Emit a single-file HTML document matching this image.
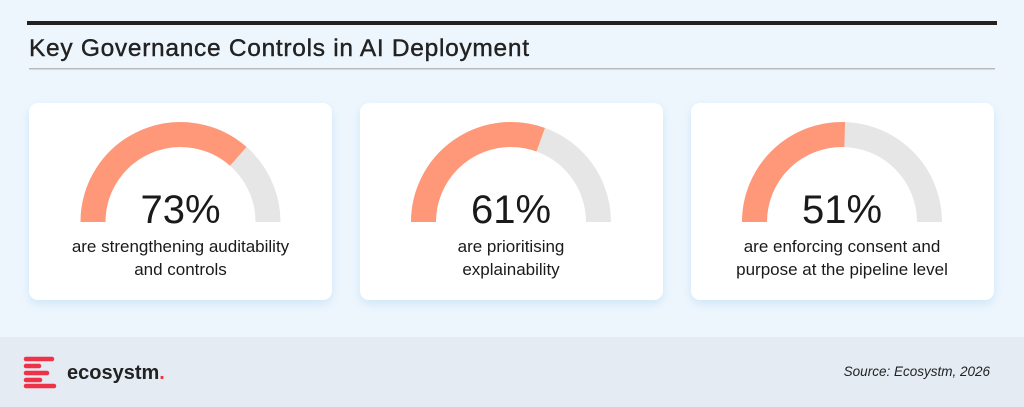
<!DOCTYPE html>
<html><head><meta charset="utf-8"><style>
html,body{margin:0;padding:0;width:1024px;height:407px;overflow:hidden;background:#eef6fd}
svg{display:block}
text{font-family:"Liberation Sans",sans-serif}
</style></head><body>
<svg width="1024" height="407" viewBox="0 0 1024 407">
<defs><filter id="sh" x="-10%" y="-10%" width="120%" height="130%"><feDropShadow dx="0" dy="4" stdDeviation="5" flood-color="#b8dcf5" flood-opacity="0.6"/></filter></defs>
<rect width="1024" height="407" fill="#eef6fd"/>
<rect x="27" y="21" width="970" height="4" fill="#222"/>
<text x="29" y="56" font-size="24.5" fill="#222" stroke="#222" stroke-width="0.4" textLength="500" lengthAdjust="spacing">Key Governance Controls in AI Deployment</text>
<rect x="29" y="68" width="966" height="1.5" fill="#bbb"/>

<g filter="url(#sh)">
<rect x="29" y="103" width="303" height="197" rx="9" fill="#fff"/>
<rect x="360" y="103" width="303" height="197" rx="9" fill="#fff"/>
<rect x="691" y="103" width="303" height="197" rx="9" fill="#fff"/>
</g>

<g fill="none" stroke-width="25">
<path d="M93 222 A87.5 87.5 0 0 1 268 222" stroke="#e6e6e6"/>
<path d="M93 222 A87.5 87.5 0 0 1 238.3 156.4" stroke="#ff9878"/>
<path d="M423.5 222 A87.5 87.5 0 0 1 598.5 222" stroke="#e6e6e6"/>
<path d="M423.5 222 A87.5 87.5 0 0 1 540.7 139.7" stroke="#ff9878"/>
<path d="M754.5 222 A87.5 87.5 0 0 1 929.5 222" stroke="#e6e6e6"/>
<path d="M754.5 222 A87.5 87.5 0 0 1 844.7 134.5" stroke="#ff9878"/>
</g>

<g text-anchor="middle" fill="#1a1a1a">
<text x="180.5" y="223" font-size="40">73%</text>
<text x="180.5" y="252" font-size="17">are strengthening auditability</text>
<text x="180.5" y="275" font-size="17">and controls</text>
<text x="511" y="223" font-size="40">61%</text>
<text x="511" y="252" font-size="17">are prioritising</text>
<text x="511" y="275" font-size="17">explainability</text>
<text x="842" y="223" font-size="40">51%</text>
<text x="842" y="252" font-size="17">are enforcing consent and</text>
<text x="842" y="275" font-size="17">purpose at the pipeline level</text>
</g>

<rect x="0" y="337" width="1024" height="70" fill="#e4ebf3"/>
<g stroke="#ef3346" stroke-width="4.5" stroke-linecap="round">
<line x1="26" y1="359" x2="52" y2="359"/>
<line x1="26" y1="366" x2="39" y2="366"/>
<line x1="26" y1="373" x2="47" y2="373"/>
<line x1="26" y1="380" x2="40" y2="380"/>
<line x1="26" y1="386" x2="54" y2="386"/>
</g>
<text x="67" y="379" font-size="20" font-weight="bold" fill="#222">ecosystm<tspan fill="#ef3346">.</tspan></text>
<text x="990" y="376" font-size="13.5" font-style="italic" fill="#222" text-anchor="end">Source: Ecosystm, 2026</text>
</svg>
</body></html>
